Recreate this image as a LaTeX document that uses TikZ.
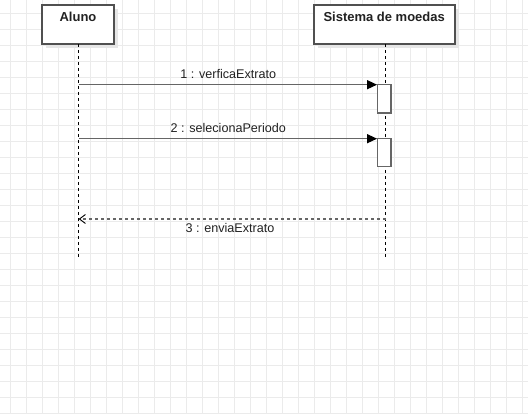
\documentclass[tikz,border=0pt]{standalone}
\usepackage{fontspec}
\setmainfont{Liberation Sans}
\usetikzlibrary{arrows.meta,calc}
\definecolor{gridc}{HTML}{EBEBEB}
\definecolor{edgec}{HTML}{666666}
\definecolor{boxc}{HTML}{505050}
\definecolor{shadowc}{HTML}{E6E6E6}
\definecolor{txtc}{HTML}{222222}
\tikzset{
  objbox/.style={draw=boxc, line width=1.6pt, fill=white, rectangle, inner sep=0pt},
  shadowbox/.style={fill=shadowc, draw=none},
  actbox/.style={draw=edgec, line width=1.4pt, fill=white, rectangle, inner sep=0pt, minimum width=13.3pt},
  lifeline/.style={draw=black, line width=0.9pt, dash pattern=on 3pt off 3pt},
  msg/.style={draw=edgec, line width=1.4pt, -{Triangle[length=10pt,width=9pt,fill=black,color=black]}},
  retmsg/.style={draw=edgec, line width=1.4pt, dash pattern=on 3pt off 3pt, -{Straight Barb[length=6pt,width=9pt,line width=0.9pt,color=black]}},
  title/.style={font=\bfseries\fontsize{13pt}{15pt}\selectfont, text=txtc, anchor=base, inner sep=0pt},
  lbl/.style={font=\fontsize{12.6pt}{15pt}\selectfont, text=txtc, anchor=base, inner sep=0pt},
}
\begin{document}
\begin{tikzpicture}[x=1pt,y=-1pt]
\useasboundingbox (0,0) rectangle (528,414);
\fill[white] (0,0) rectangle (528,414);
% grid
\foreach \k in {0,...,32} {
  \draw[gridc, line width=1pt] ({10.7+16*\k},0) -- ({10.7+16*\k},414);
}
\foreach \k in {0,...,25} {
  \draw[gridc, line width=1pt] (0,{13.3+16*\k}) -- (528,{13.3+16*\k});
}
% shadows
\fill[shadowc] (46,9) rectangle (118,48);
\fill[shadowc] (318,9) rectangle (459,48);
% object boxes
\node[objbox, minimum width=72pt, minimum height=39pt] (aluno) at (78,24.5) {};
\node[objbox, minimum width=141pt, minimum height=39pt] (sistema) at (384.2,24.5) {};
\node[title] (alunoT) at (78,22) {Aluno};
\node[title] (sistemaT) at (384.2,22) {Sistema de moedas};
% lifelines
\coordinate (alunoTop) at (78.7,44);
\coordinate (alunoEnd) at (78.7,258);
\coordinate (sisTop) at (385.7,44);
\coordinate (sisEnd) at (385.7,258);
\draw[lifeline] (alunoTop) -- (alunoEnd);
\draw[lifeline] (sisTop) -- (sisEnd);
% activations
\node[actbox, minimum height=28.7pt] (act1) at (384.4,98.7) {};
\node[actbox, minimum height=28pt] (act2) at (384.4,152.7) {};
% messages
\coordinate (m1s) at (78.7,84.7);
\coordinate (m2s) at (78.7,138.7);
\draw[msg] (m1s) -- (m1s -| act1.west);
\draw[msg] (m2s) -- (m2s -| act2.west);
\node[lbl] (l1) at (228.3,78.3) {1 : verficaExtrato};
\node[lbl] (l2) at (228.3,132.7) {2 : selecionaPeriodo};
% return
\coordinate (r3s) at (385.7,219);
\coordinate (r3e) at (78.7,219);
\draw[retmsg] (r3s) -- (r3e);
\node[lbl] (l3) at (230,232.7) {3 : enviaExtrato};
\end{tikzpicture}
\end{document}
